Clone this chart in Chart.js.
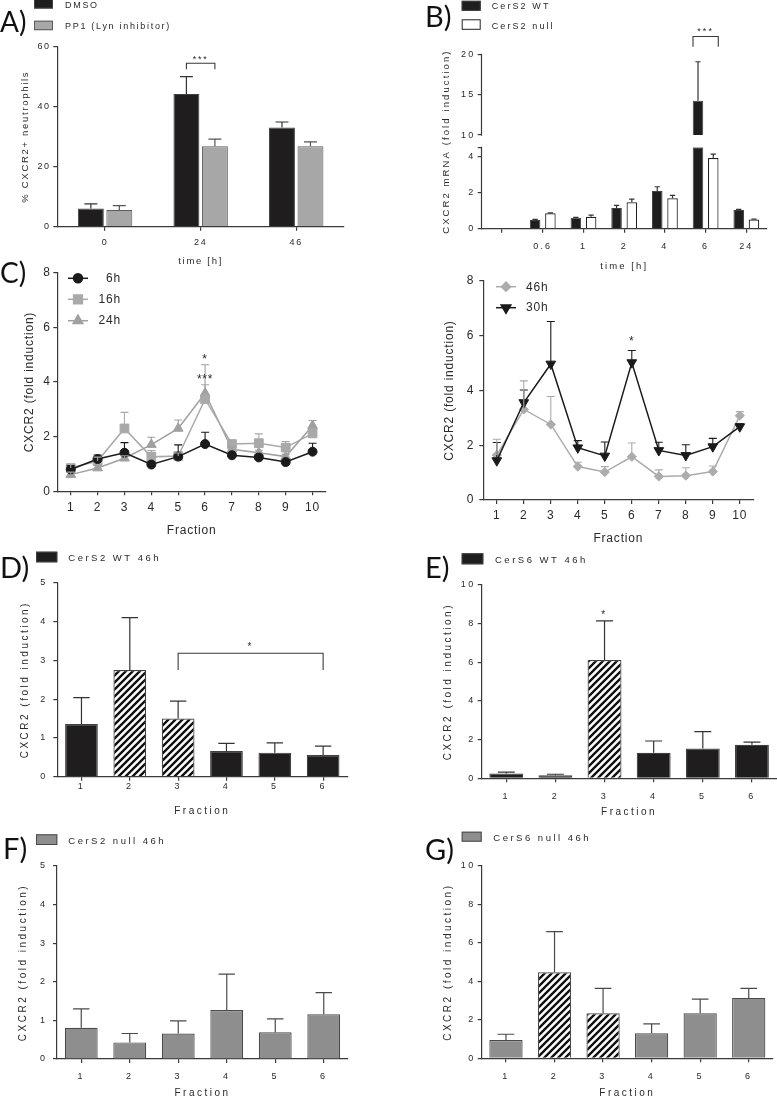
<!DOCTYPE html>
<html>
<head>
<meta charset="utf-8">
<title>CXCR2 figure</title>
<script src="https://cdn.jsdelivr.net/npm/chart.js@4.4.1/dist/chart.umd.min.js"></script>
<style>
  html, body { margin: 0; padding: 0; background: #fff; }
  body { position: relative; width: 777px; height: 1097px; overflow: hidden; }
  canvas { position: absolute; }
</style>
</head>
<body>
<canvas id="cA" width="390" height="270" style="left:0px;top:0px"></canvas>
<canvas id="cB" width="387" height="275" style="left:390px;top:0px"></canvas>
<canvas id="cC1" width="390" height="290" style="left:0px;top:260px"></canvas>
<canvas id="cC2" width="387" height="290" style="left:390px;top:260px"></canvas>
<canvas id="cD" width="390" height="275" style="left:0px;top:545px"></canvas>
<canvas id="cE" width="387" height="275" style="left:390px;top:545px"></canvas>
<canvas id="cF" width="390" height="285" style="left:0px;top:820px"></canvas>
<canvas id="cG" width="387" height="285" style="left:390px;top:820px"></canvas>
<script>
// ================= DATA =================
// Panel A
const A_TIMES = ['0', '24', '46'];
const A_DMSO = [6.1, 44.2, 33.1];
const A_DMSO_SD = [1.5, 5.8, 1.8];
const A_PP1 = [5.6, 26.8, 26.8];
const A_PP1_SD = [1.4, 2.4, 1.5];
const A_Y_TICKS = [0, 20, 40, 60];

// Panel B (broken y axis)
const B_TIMES = ['', '0.6', '1', '2', '4', '6', '24'];
const B_WT = [null, 0.48, 0.61, 1.14, 2.09, 14.25, 1.04];
const B_WT_SD = [null, 0.03, 0.02, 0.15, 0.23, 4.83, 0.03];
const B_NULL = [null, 0.85, 0.66, 1.46, 1.68, 3.91, 0.51];
const B_NULL_SD = [null, 0.02, 0.09, 0.18, 0.16, 0.21, 0.02];
const B_LOW_TICKS = [0, 2, 4];
const B_HIGH_TICKS = [10, 15, 20];
const B_BREAK = [4.5, 10];

// Panel C
const FRACTIONS_10 = ['1', '2', '3', '4', '5', '6', '7', '8', '9', '10'];
const C_Y_TICKS = [0, 2, 4, 6, 8];
const C_6H = [0.80, 1.18, 1.41, 0.98, 1.27, 1.73, 1.32, 1.24, 1.07, 1.45];
const C_6H_SD = [0.15, 0.15, 0.37, 0.09, 0.43, 0.43, 0.08, 0.08, 0.05, 0.31];
const C_16H = [0.85, 1.11, 2.30, 1.26, 1.29, 3.37, 1.73, 1.76, 1.60, 2.12];
const C_16H_SD = [0.13, 0.14, 0.59, 0.23, 0.11, 0.53, 0.11, 0.34, 0.22, 0.13];
const C_24H = [0.61, 0.85, 1.21, 1.71, 2.30, 3.59, 1.54, 1.41, 1.27, 2.40];
const C_24H_SD = [0.09, 0.10, 0.09, 0.27, 0.31, 1.04, 0.08, 0.09, 0.08, 0.19];
const C_46H = [1.64, 3.31, 2.76, 1.22, 1.02, 1.58, 0.86, 0.89, 1.04, 3.08];
const C_46H_SD = [0.58, 1.04, 1.02, 0.16, 0.20, 0.50, 0.24, 0.29, 0.20, 0.15];
const C_30H = [1.44, 3.56, 4.97, 1.91, 1.61, 5.02, 1.81, 1.63, 1.95, 2.68];
const C_30H_SD = [0.66, 0.46, 1.55, 0.26, 0.51, 0.44, 0.30, 0.39, 0.30, 0.10];

// Panels D-G
const FRACTIONS_6 = ['1', '2', '3', '4', '5', '6'];
const DF_Y_TICKS = [0, 1, 2, 3, 4, 5];
const EG_Y_TICKS = [0, 2, 4, 6, 8, 10];
const D_CERS2_WT = [1.36, 2.75, 1.50, 0.66, 0.62, 0.56];
const D_SD = [0.68, 1.35, 0.45, 0.20, 0.25, 0.23];
const D_HATCHED = [false, true, true, false, false, false];
const E_CERS6_WT = [0.25, 0.16, 6.12, 1.32, 1.54, 1.73];
const E_SD = [0.07, 0.05, 2.02, 0.61, 0.87, 0.14];
const E_HATCHED = [false, false, true, false, false, false];
const F_CERS2_NULL = [0.81, 0.43, 0.66, 1.27, 0.69, 1.16];
const F_SD = [0.49, 0.23, 0.33, 0.93, 0.35, 0.56];
const G_CERS6_NULL = [0.95, 4.47, 2.34, 1.30, 2.34, 3.14];
const G_SD = [0.30, 2.12, 1.30, 0.49, 0.74, 0.50];
const G_HATCHED = [false, true, true, false, false, false];

// ================= STYLE =================
const FONT = "'Liberation Sans', Arial, Helvetica, sans-serif";
const LETTER_FONT = "Lato, 'Open Sans', sans-serif";
const AX = '#3a3a3a';
const TX = '#2a2a2a';
const BLACK = '#1f1d1e';
const BLACK_EDGE = '#404040';
const GREY_A = '#a7a7a7';
const GREY_A_EDGE = '#5c5c5c';
const GREY_F = '#8e8e8e';
const GREY_F_EDGE = '#4a4a4a';
const C6 = '#1a1a1a', C16 = '#a9a9a9', C24 = '#a0a0a0', C46 = '#acacac', C30 = '#1a1a1a';

Chart.defaults.font.family = FONT;
Chart.defaults.color = TX;
Chart.defaults.animation = false;
Chart.defaults.responsive = false;
Chart.defaults.plugins.legend.display = false;
Chart.defaults.plugins.tooltip.enabled = false;

function makeHatch() {
  const c = document.createElement('canvas');
  c.width = 7; c.height = 7;
  const g = c.getContext('2d');
  g.fillStyle = '#fff'; g.fillRect(0, 0, 7, 7);
  g.strokeStyle = '#111'; g.lineWidth = 2.4;
  g.beginPath();
  g.moveTo(-2, 9); g.lineTo(9, -2);
  g.moveTo(-2, 2); g.lineTo(2, -2);
  g.moveTo(5, 9); g.lineTo(9, 5);
  g.stroke();
  return g.createPattern(c, 'repeat');
}
const HATCH = makeHatch();

function txt(ctx, s, x, y, size, opt) {
  opt = opt || {};
  ctx.save();
  ctx.font = (opt.weight || 'normal') + ' ' + size + 'px ' + (opt.family || FONT);
  ctx.fillStyle = opt.color || TX;
  ctx.textAlign = opt.align || 'left';
  ctx.textBaseline = opt.baseline || 'middle';
  if (opt.ls != null) ctx.letterSpacing = opt.ls + 'px';
  if (opt.rot) { ctx.translate(x, y); ctx.rotate(opt.rot); ctx.fillText(s, 0, 0); }
  else ctx.fillText(s, x, y);
  ctx.restore();
}

function marker(ctx, style, r, rot, x, y) {
  if (Chart.helpers && Chart.helpers.drawPoint) {
    Chart.helpers.drawPoint(ctx, { pointStyle: style, radius: r, rotation: rot || 0, borderWidth: 1 }, x, y);
  } else {
    ctx.beginPath(); ctx.arc(x, y, r, 0, Math.PI * 2); ctx.fill();
  }
}

function extras(o) {
  return {
    id: 'extras',
    beforeDraw(chart) { chart.ctx.letterSpacing = (o.ls || 0) + 'px'; },
    afterDatasetsDraw(chart) {
      const ctx = chart.ctx;
      // error bars (mean + SD)
      chart.data.datasets.forEach((ds, di) => {
        if (!ds.errSD) return;
        const meta = chart.getDatasetMeta(di);
        const ys = chart.scales[meta.yAxisID];
        ctx.save();
        ctx.strokeStyle = ds.errColor || AX;
        ctx.lineWidth = ds.errWidth || 1.2;
        meta.data.forEach((el, i) => {
          const m = ds.errMean ? ds.errMean[i] : ds.data[i];
          const sd = ds.errSD[i];
          if (m == null || sd == null) return;
          const y0 = ys.getPixelForValue(m), y1 = ys.getPixelForValue(m + sd);
          const x = el.x;
          const hw = el.width ? el.width / 4 : (ds.capHalf || 4);
          ctx.beginPath();
          ctx.moveTo(x, y0); ctx.lineTo(x, y1);
          ctx.moveTo(x - hw, y1); ctx.lineTo(x + hw, y1);
          ctx.stroke();
        });
        ctx.restore();
      });
      // significance brackets
      (o.brackets || []).forEach(b => {
        const ys = chart.scales[b.axis || 'y'];
        const p1 = chart.getDatasetMeta(b.from[0]).data[b.from[1]];
        const p2 = chart.getDatasetMeta(b.to[0]).data[b.to[1]];
        const x1 = p1.x - (b.pad || 0), x2 = p2.x + (b.pad || 0);
        const yt = ys.getPixelForValue(b.y), yl = ys.getPixelForValue(b.leg);
        ctx.save();
        ctx.strokeStyle = AX; ctx.lineWidth = 1.1;
        ctx.beginPath();
        ctx.moveTo(x1, yl); ctx.lineTo(x1, yt); ctx.lineTo(x2, yt); ctx.lineTo(x2, yl);
        ctx.stroke();
        ctx.restore();
        txt(ctx, b.text, (x1 + x2) / 2, ys.getPixelForValue(b.textY), b.size || 9, { align: 'center' });
      });
      (o.stars || []).forEach(s => {
        const ys = chart.scales[s.axis || 'y'];
        const x = chart.scales.x.getPixelForValue(s.index);
        txt(ctx, s.text, x, ys.getPixelForValue(s.y), s.size || 10, { align: 'center' });
      });
    },
    afterDraw(chart) {
      const ctx = chart.ctx;
      (o.vsegs || []).forEach(v => {
        const ys = chart.scales[v.axis];
        const x = Math.round(chart.chartArea.left) - 0.5;
        ctx.save();
        ctx.strokeStyle = AX; ctx.lineWidth = 1.2;
        ctx.beginPath();
        ctx.moveTo(x, ys.getPixelForValue(v.from) + 0.6);
        ctx.lineTo(x, ys.getPixelForValue(v.to) - 0.6);
        ctx.stroke();
        ctx.restore();
      });
      if (o.ytitle) {
        const t = o.ytitle;
        txt(ctx, t.text, t.x, t.y, t.size, { align: 'center', rot: -Math.PI / 2 });
      }
      (o.legend || []).forEach(it => {
        ctx.save();
        if (it.box) {
          const [x, y, w, h] = it.box;
          ctx.fillStyle = it.fill; ctx.fillRect(x, y, w, h);
          ctx.strokeStyle = it.stroke; ctx.lineWidth = 1;
          ctx.strokeRect(x + 0.5, y + 0.5, w - 1, h - 1);
        }
        if (it.line) {
          const [x1, x2, y] = it.line;
          ctx.strokeStyle = it.color; ctx.fillStyle = it.color; ctx.lineWidth = 1.5;
          ctx.beginPath(); ctx.moveTo(x1, y); ctx.lineTo(x2, y); ctx.stroke();
          marker(ctx, it.style, it.r, it.rot, (x1 + x2) / 2, y);
        }
        ctx.restore();
        txt(ctx, it.text, it.tx, it.ty, it.size, { align: it.align || 'left' });
      });
      if (o.letter) {
        const L = o.letter;
        txt(ctx, L.text, L.x, L.y, L.size || 28, { family: LETTER_FONT, baseline: 'alphabetic', ls: 0, color: '#111' });
      }
    }
  };
}

function yAxis(t, o) {
  const ax = {
    type: 'linear', position: 'left',
    min: (o.min != null ? o.min : t[0]), max: t[t.length - 1],
    afterBuildTicks: s => { s.ticks = t.map(v => ({ value: v })); },
    afterFit: s => { s.width = o.w; },
    border: { display: o.border !== false, color: AX, width: 1.2 },
    grid: { drawOnChartArea: false, drawTicks: true, tickLength: 4, color: AX, lineWidth: 1.2 },
    ticks: { font: { size: o.fs }, color: TX, padding: o.tp },
    title: { display: !!o.title, text: o.title || '', font: { size: o.tfs || 10 }, color: TX, padding: { top: o.tpt || 0, bottom: 0 } }
  };
  if (o.cb) ax.ticks.callback = o.cb;
  return Object.assign(ax, o.extra || {});
}

function xAxis(o) {
  return {
    type: 'category', position: 'bottom', offset: true,
    afterFit: s => { s.height = o.h; },
    border: { display: true, color: AX, width: 1.2 },
    grid: { offset: false, drawOnChartArea: false, drawTicks: true, tickLength: 4, color: AX, lineWidth: 1.2 },
    ticks: { font: { size: o.fs }, color: TX, padding: o.tp, maxRotation: 0, autoSkip: false },
    title: { display: true, text: o.title, font: { size: o.tfs }, color: TX, padding: { top: 0, bottom: o.tpb } }
  };
}

function mk(id, cfg) { return new Chart(document.getElementById(id), cfg); }
function fills(hatched, solid) { return hatched.map(h => h ? HATCH : solid); }

// ================= PANEL A =================
mk('cA', {
  type: 'bar',
  data: {
    labels: A_TIMES,
    datasets: [
      { label: 'DMSO', data: A_DMSO, errSD: A_DMSO_SD, errColor: '#333', backgroundColor: BLACK, borderColor: BLACK_EDGE, borderWidth: 1, categoryPercentage: 0.596, barPercentage: 0.91 },
      { label: 'PP1 (Lyn inhibitor)', data: A_PP1, errSD: A_PP1_SD, errColor: '#555', backgroundColor: GREY_A, borderColor: GREY_A_EDGE, borderWidth: 1, categoryPercentage: 0.596, barPercentage: 0.91 }
    ]
  },
  options: {
    layout: { padding: { left: 0, top: 46.7, right: 46, bottom: 0 } },
    scales: {
      x: xAxis({ h: 43.3, fs: 9, tp: 6.9, title: 'time [h]', tfs: 9.5, tpb: 3.3 }),
      y: yAxis(A_Y_TICKS, { w: 57.3, fs: 9, tp: 2.5, title: '% CXCR2+ neutrophils', tfs: 9.5, tpt: 19.3 })
    }
  },
  plugins: [extras({
    ls: 1.7,
    letter: { text: 'A)', x: 0, y: 31.5, size: 28 },
    legend: [
      { box: [34, -1, 19, 9.5], fill: BLACK, stroke: BLACK_EDGE, text: 'DMSO', tx: 65, ty: 6, size: 9 },
      { box: [34, 20.7, 19, 9.5], fill: GREY_A, stroke: GREY_A_EDGE, text: 'PP1 (Lyn inhibitor)', tx: 65, ty: 26.5, size: 9 }
    ],
    brackets: [{ from: [0, 1], to: [1, 1], pad: 0, y: 54.5, leg: 52.5, textY: 55.6, text: '***', size: 9 }]
  })]
});

// ================= PANEL B =================
const LOW_MAX = B_BREAK[0], HIGH_MIN = B_BREAK[1];
const bWTLow = B_WT.map(v => v == null ? null : Math.min(v, LOW_MAX));
const bWTHigh = B_WT.map(v => (v != null && v > HIGH_MIN) ? [HIGH_MIN, v] : null);
const bWTLowSD = B_WT_SD.map((s, i) => (B_WT[i] != null && B_WT[i] <= LOW_MAX) ? s : null);
const bWTHighSD = B_WT_SD.map((s, i) => (B_WT[i] != null && B_WT[i] > HIGH_MIN) ? s : null);

mk('cB', {
  type: 'bar',
  data: {
    labels: B_TIMES,
    datasets: [
      { label: 'CerS2 WT', data: bWTLow, yAxisID: 'yLow', stack: 'wt', errMean: B_WT, errSD: bWTLowSD, errColor: '#333', backgroundColor: BLACK, borderColor: BLACK_EDGE, borderWidth: 1, categoryPercentage: 0.75, barPercentage: 0.69 },
      { label: 'CerS2 null', data: B_NULL, yAxisID: 'yLow', stack: 'null', errSD: B_NULL_SD, errColor: '#333', backgroundColor: '#ffffff', borderColor: '#222', borderWidth: 1.2, categoryPercentage: 0.75, barPercentage: 0.69 },
      { label: 'CerS2 WT (upper)', data: bWTHigh, yAxisID: 'yHigh', stack: 'wt', errMean: B_WT, errSD: bWTHighSD, errColor: '#333', backgroundColor: BLACK, borderColor: BLACK_EDGE, borderWidth: 1, categoryPercentage: 0.75, barPercentage: 0.69 }
    ]
  },
  options: {
    layout: { padding: { left: 0, top: 54.3, right: 10.3, bottom: 0 } },
    scales: {
      x: xAxis({ h: 46.3, fs: 9, tp: 8.6, title: 'time [h]', tfs: 9.5, tpb: 2.6 }),
      yLow: yAxis(B_LOW_TICKS.concat([LOW_MAX]), {
        w: 91.7, fs: 9, tp: 2.4, border: false,
        cb: v => B_LOW_TICKS.includes(v) ? String(v) : '',
        extra: { stack: 'b', stackWeight: 81.4, weight: 0, max: LOW_MAX }
      }),
      yHigh: yAxis(B_HIGH_TICKS, {
        w: 91.7, fs: 9, tp: 2.4, border: false, min: 8.48,
        extra: { stack: 'b', stackWeight: 93, weight: 1 }
      })
    }
  },
  plugins: [extras({
    ls: 2.1,
    letter: { text: 'B)', x: 35, y: 26.7, size: 29 },
    legend: [
      { box: [71.7, 0.8, 19, 10], fill: BLACK, stroke: BLACK_EDGE, text: 'CerS2 WT', tx: 101.7, ty: 7, size: 9 },
      { box: [71.7, 19.3, 19, 10.5], fill: '#ffffff', stroke: '#222', text: 'CerS2 null', tx: 101.7, ty: 26.7, size: 9 }
    ],
    vsegs: [{ axis: 'yLow', from: 0, to: LOW_MAX }, { axis: 'yHigh', from: HIGH_MIN, to: 20 }],
    ytitle: { text: 'CXCR2 mRNA (fold induction)', x: 56.7, y: 141.6, size: 9.5 },
    brackets: [{ from: [0, 5], to: [1, 5], pad: 5, axis: 'yHigh', y: 22.2, leg: 20.95, textY: 22.85, text: '***', size: 9 }]
  })]
});

// ================= PANEL C (left) =================
function lineDs(label, data, sd, color, style, r, rot) {
  return {
    label, data, errSD: sd, errColor: color, errWidth: 1.1, capHalf: 4,
    borderColor: color, backgroundColor: color, borderWidth: 1.5,
    pointStyle: style, pointRadius: r, pointRotation: rot || 0, pointBorderWidth: 1,
    pointBackgroundColor: color, pointBorderColor: color, tension: 0
  };
}

mk('cC1', {
  type: 'line',
  data: {
    labels: FRACTIONS_10,
    datasets: [
      lineDs('6h', C_6H, C_6H_SD, C6, 'circle', 4.5),
      lineDs('16h', C_16H, C_16H_SD, C16, 'rect', 6.2),
      lineDs('24h', C_24H, C_24H_SD, C24, 'triangle', 5.6)
    ]
  },
  options: {
    layout: { padding: { left: 0, top: 12.7, right: 64, bottom: 0 } },
    scales: {
      x: xAxis({ h: 58.7, fs: 12, tp: 4.8, title: 'Fraction', tfs: 12, tpb: 11.8 }),
      y: yAxis(C_Y_TICKS, { w: 57.3, fs: 12, tp: 2.6, title: 'CXCR2 (fold induction)', tfs: 12, tpt: 22.1 })
    }
  },
  plugins: [extras({
    ls: 0.8,
    letter: { text: 'C)', x: 0, y: 23, size: 28 },
    legend: [
      { line: [68, 88, 18.3], color: C6, style: 'circle', r: 4.5, text: '6h', tx: 121, ty: 19, size: 12, align: 'right' },
      { line: [68, 88, 39.3], color: C16, style: 'rect', r: 6.2, text: '16h', tx: 121, ty: 39.5, size: 12, align: 'right' },
      { line: [68, 88, 60.7], color: C24, style: 'triangle', r: 5.6, text: '24h', tx: 121, ty: 60.8, size: 12, align: 'right' }
    ],
    stars: [
      { index: 5, y: 4.80, text: '*', size: 12 },
      { index: 5, y: 4.07, text: '***', size: 12 }
    ]
  })]
});

// ================= PANEL C (right) =================
mk('cC2', {
  type: 'line',
  data: {
    labels: FRACTIONS_10,
    datasets: [
      lineDs('30h', C_30H, C_30H_SD, C30, 'triangle', 5.6, 180),
      lineDs('46h', C_46H, C_46H_SD, C46, 'rectRot', 4.6)
    ]
  },
  options: {
    layout: { padding: { left: 0, top: 21, right: 23.7, bottom: 0 } },
    scales: {
      x: xAxis({ h: 50, fs: 12, tp: 4.8, title: 'Fraction', tfs: 12, tpb: 3.8 }),
      y: yAxis(C_Y_TICKS, { w: 93.3, fs: 12, tp: 5.2, title: 'CXCR2 (fold induction)', tfs: 12, tpt: 52.8 })
    }
  },
  plugins: [extras({
    ls: 0.8,
    legend: [
      { line: [106, 126, 26.7], color: C46, style: 'rectRot', r: 4.6, text: '46h', tx: 136, ty: 27.5, size: 12 },
      { line: [106, 126, 47.7], color: C30, style: 'triangle', r: 5.6, rot: 180, text: '30h', tx: 136, ty: 47.5, size: 12 }
    ],
    stars: [{ index: 5, y: 5.78, text: '*', size: 12 }]
  })]
});

// ================= PANELS D-G =================
function barPanel(id, o) {
  mk(id, {
    type: 'bar',
    data: {
      labels: FRACTIONS_6,
      datasets: [{
        label: o.label, data: o.data, errSD: o.sd, errColor: o.errColor,
        backgroundColor: fills(o.hatched, o.fill), borderColor: o.edge, borderWidth: 1.2,
        categoryPercentage: 1, barPercentage: o.bp
      }]
    },
    options: {
      layout: { padding: { left: 0, top: o.top, right: o.right, bottom: 0 } },
      scales: {
        x: xAxis({ h: o.xh, fs: 9, tp: o.xtp, title: 'Fraction', tfs: 10, tpb: o.xtpb }),
        y: yAxis(o.ticks, { w: o.yw, fs: 9, tp: o.ytp, title: 'CXCR2 (fold induction)', tfs: 10, tpt: o.ytpt })
      }
    },
    plugins: [extras({
      ls: 2.5,
      letter: o.letter,
      legend: [{ box: o.box, fill: o.fill, stroke: o.edge, text: o.label, tx: o.tx, ty: o.ty, size: 9.5 }],
      brackets: o.brackets || [],
      stars: o.stars || []
    })]
  });
}

barPanel('cD', {
  label: 'CerS2 WT 46h', data: D_CERS2_WT, sd: D_SD, hatched: D_HATCHED, ticks: DF_Y_TICKS,
  fill: BLACK, edge: BLACK_EDGE, errColor: '#333', bp: 0.677,
  top: 37.7, right: 42.7, xh: 43.3, xtp: 0, xtpb: 2.3, yw: 57.3, ytp: 5.5, ytpt: 19,
  letter: { text: 'D)', x: 0, y: 32.5, size: 29 },
  box: [36, 6.7, 21.3, 10.6], tx: 68.3, ty: 13,
  brackets: [{ from: [0, 2], to: [0, 5], pad: 0, y: 3.18, leg: 2.75, textY: 3.33, text: '*', size: 10 }]
});

barPanel('cE', {
  label: 'CerS6 WT 46h', data: E_CERS6_WT, sd: E_SD, hatched: E_HATCHED, ticks: EG_Y_TICKS,
  fill: BLACK, edge: BLACK_EDGE, errColor: '#333', bp: 0.69,
  top: 40, right: 0.5, xh: 41.7, xtp: 8.6, xtpb: 1.3, yw: 91.7, ytp: 2, ytpt: 52.3,
  letter: { text: 'E)', x: 35, y: 33, size: 29 },
  box: [71.7, 8.3, 21.6, 11], tx: 105, ty: 15,
  stars: [{ index: 2, y: 8.45, text: '*', size: 10 }]
});

barPanel('cF', {
  label: 'CerS2 null 46h', data: F_CERS2_NULL, sd: F_SD, hatched: [false, false, false, false, false, false], ticks: DF_Y_TICKS,
  fill: GREY_F, edge: GREY_F_EDGE, errColor: '#4a4a4a', bp: 0.677,
  top: 46, right: 42, xh: 46, xtp: 8.6, xtpb: 5.7, yw: 57, ytp: 5.5, ytpt: 17.3,
  letter: { text: 'F)', x: 3, y: 39, size: 29 },
  box: [36, 14.3, 21.3, 10.7], tx: 68.3, ty: 21
});

barPanel('cG', {
  label: 'CerS6 null 46h', data: G_CERS6_NULL, sd: G_SD, hatched: G_HATCHED, ticks: EG_Y_TICKS,
  fill: GREY_F, edge: GREY_F_EDGE, errColor: '#4a4a4a', bp: 0.685,
  top: 46, right: 4, xh: 46.7, xtp: 9.3, xtpb: 5.7, yw: 91.7, ytp: 2, ytpt: 52.3,
  letter: { text: 'G)', x: 35, y: 40, size: 29 },
  box: [71.7, 11.7, 20, 10], tx: 103.3, ty: 18
});
</script>
</body>
</html>
